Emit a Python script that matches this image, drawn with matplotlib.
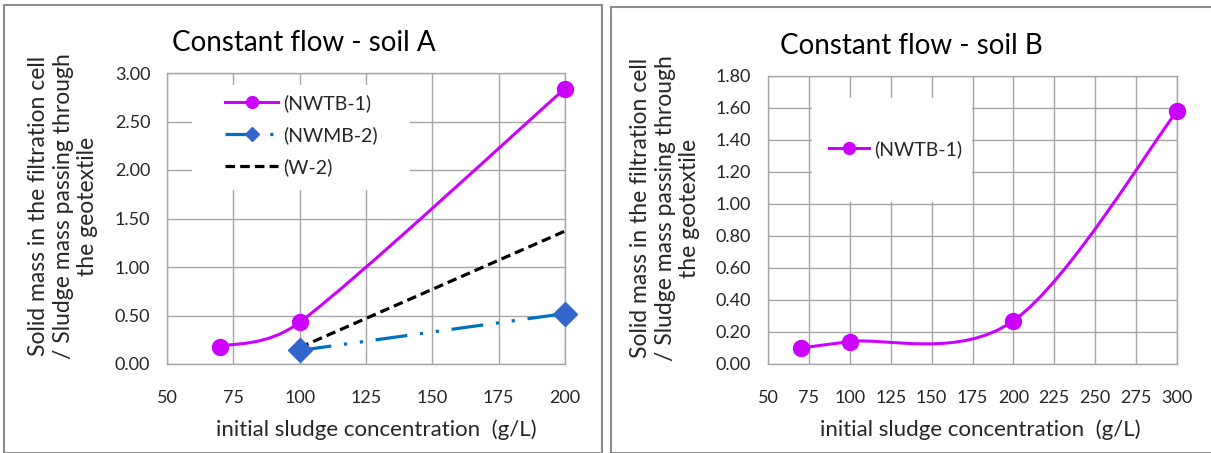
"""
Constant flow plots for soil A and soil B.
"""
import matplotlib
matplotlib.use("Agg")
import numpy as np
import matplotlib.pyplot as plt
from matplotlib.path import Path
from matplotlib.patches import PathPatch, Rectangle
from matplotlib.lines import Line2D

plt.rcParams['font.family'] = ['Lato', 'DejaVu Sans']

# soil A
a_nwtb_x = [70, 100, 200]
a_nwtb_y = [0.18, 0.43, 2.84]
a_nwmb_x = [100, 200]
a_nwmb_y = [0.14, 0.52]
a_w2_x = [100, 200]
a_w2_y = [0.17, 1.37]

# soil B
b_nwtb_x = [70, 100, 200, 300]
b_nwtb_y = [0.10, 0.14, 0.27, 1.58]

a_xticks = [50, 75, 100, 125, 150, 175, 200]
a_yticks = [0.0, 0.5, 1.0, 1.5, 2.0, 2.5, 3.0]
b_xticks = [50, 75, 100, 125, 150, 175, 200, 225, 250, 275, 300]
b_yticks = [0.0, 0.2, 0.4, 0.6, 0.8, 1.0, 1.2, 1.4, 1.6, 1.8]

MAGENTA = '#cc00ff'
BLUE_LINE = '#0070c0'
BLUE_MARK = '#3366cc'
GRID = '#a6a6a6'
TXT = '#262626'
DASHDOTDOT = (10, 4, 1, 4, 1, 4)

YLABEL = ("Solid mass in the filtration cell\n"
          "/ Sludge mass passing through\n"
          "the geotextile")
XLABEL = "initial sludge concentration  (g/L)"

W, H = 1211, 453


def fx(px):
    return px / W


def fy(py):
    return 1 - py / H


def smooth_path(ax, xs, ys):
    """Excel-like smoothed line: cubic bezier, handles built in screen space."""
    pts = ax.transData.transform(np.column_stack([xs, ys]))
    n = len(pts)
    verts = [pts[0]]
    codes = [Path.MOVETO]
    for i in range(n - 1):
        p0 = pts[i - 1] if i > 0 else pts[i]
        p1, p2 = pts[i], pts[i + 1]
        p3 = pts[i + 2] if i + 2 < n else pts[i + 1]
        seg = np.hypot(*(p2 - p1))
        h1 = (p2 - p0) / 6
        h2 = (p3 - p1) / 6
        # keep handles from overshooting short segments
        for h in (h1, h2):
            ln = np.hypot(*h)
            if ln > seg / 2:
                h *= (seg / 2) / ln
        verts += [p1 + h1, p2 - h2, p2]
        codes += [Path.CURVE4] * 3
    data = ax.transData.inverted().transform(np.array(verts))
    return Path(data, codes)


def px_axes(fig, left, top, right, bottom):
    return fig.add_axes([fx(left), fy(bottom), (right - left) / W, (bottom - top) / H])


def style_axes(ax, xticks, yticks):
    ax.set_xlim(xticks[0], xticks[-1])
    ax.set_ylim(yticks[0], yticks[-1])
    ax.set_xticks(xticks)
    ax.set_yticks(yticks)
    ax.set_yticklabels([f"{v:.2f}" for v in yticks])
    ax.grid(True, color=GRID, linewidth=1.0)
    ax.set_axisbelow(True)
    for s in ax.spines.values():
        s.set_color(GRID)
        s.set_linewidth(1.0)
    ax.tick_params(length=0, labelsize=13, colors=TXT)
    ax.tick_params(axis='y', pad=12)
    ax.tick_params(axis='x', pad=19)


def white_box(ax, left, top, right, bottom):
    ax.add_patch(Rectangle((fx(left), fy(bottom)), (right - left) / W, (bottom - top) / H,
                           transform=ax.figure.transFigure, facecolor='white',
                           edgecolor='none', zorder=1, clip_on=False))


def nwtb_curve(ax, xs, ys):
    ax.add_patch(PathPatch(smooth_path(ax, xs, ys), facecolor='none',
                           edgecolor=MAGENTA, linewidth=2.2, zorder=3))
    ax.plot(xs, ys, linestyle='none', marker='o', markersize=11.5,
            color=MAGENTA, zorder=4, clip_on=False)


def place_legend(ax, handles, labels, left, top, handlelength):
    x, y = ax.transAxes.inverted().transform(
        ax.figure.transFigure.transform((fx(left), fy(top))))
    leg = ax.legend(handles, labels, loc='upper left', bbox_to_anchor=(x, y),
                    fontsize=14, handlelength=handlelength, handletextpad=0.25,
                    labelspacing=0.72, borderpad=0, borderaxespad=0, frameon=False)
    for t in leg.get_texts():
        t.set_color(TXT)
    return leg


fig = plt.figure(figsize=(W / 100, H / 100), dpi=100)

# panel frames
fig.add_artist(Rectangle((fx(4), 0), 598 / W, fy(5), transform=fig.transFigure,
                         fill=False, edgecolor='#8c8c8c', linewidth=1.5))
fig.add_artist(Rectangle((fx(611), 0), 1, fy(7), transform=fig.transFigure,
                         fill=False, edgecolor='#8c8c8c', linewidth=1.5))

# ---- soil A
ax1 = px_axes(fig, 167, 73, 565, 364)
style_axes(ax1, a_xticks, a_yticks)
nwtb_curve(ax1, a_nwtb_x, a_nwtb_y)
ax1.plot(a_w2_x, a_w2_y, color='black', linewidth=2.3, dashes=(3, 1.6), zorder=3)
ax1.plot(a_nwmb_x, a_nwmb_y, color=BLUE_LINE, linewidth=2.3, dashes=DASHDOTDOT, zorder=3)
ax1.plot(a_nwmb_x, a_nwmb_y, linestyle='none', marker='D', markersize=12,
         color=BLUE_MARK, zorder=4, clip_on=False)

white_box(ax1, 192, 85, 410, 190)
handles = [
    Line2D([], [], color=MAGENTA, linewidth=2.2, marker='o', markersize=8.5),
    Line2D([], [], color=BLUE_LINE, linewidth=2.3, dashes=DASHDOTDOT,
           marker='D', markersize=7, markerfacecolor=BLUE_MARK, markeredgecolor=BLUE_MARK),
    Line2D([], [], color='black', linewidth=2.3, dashes=(3, 1.6)),
]
place_legend(ax1, handles, ["(NWTB-1)", "(NWMB-2)", "(W-2)"], 225, 94, 2.75)

fig.text(fx(304), fy(43), "Constant flow - soil A", fontsize=20,
         ha='center', va='center', color='black')
fig.text(fx(63), fy(206), YLABEL, fontsize=16.5, rotation=90, ha='center',
         va='center', multialignment='center', linespacing=1.2, color=TXT)
fig.text(fx(376), fy(430), XLABEL, fontsize=16, ha='center', va='center', color=TXT)

# ---- soil B
ax2 = px_axes(fig, 768, 76, 1177, 364)
style_axes(ax2, b_xticks, b_yticks)
nwtb_curve(ax2, b_nwtb_x, b_nwtb_y)

white_box(ax2, 812, 98, 972, 202)
place_legend(ax2, [Line2D([], [], color=MAGENTA, linewidth=2.2, marker='o', markersize=8.5)],
             ["(NWTB-1)"], 829, 140, 2.05)

fig.text(fx(911), fy(46), "Constant flow - soil B", fontsize=20,
         ha='center', va='center', color='black')
fig.text(fx(665), fy(208), YLABEL, fontsize=16.5, rotation=90, ha='center',
         va='center', multialignment='center', linespacing=1.2, color=TXT)
fig.text(fx(980), fy(430), XLABEL, fontsize=16, ha='center', va='center', color=TXT)

fig.savefig("out.png", dpi=100, facecolor='white')
